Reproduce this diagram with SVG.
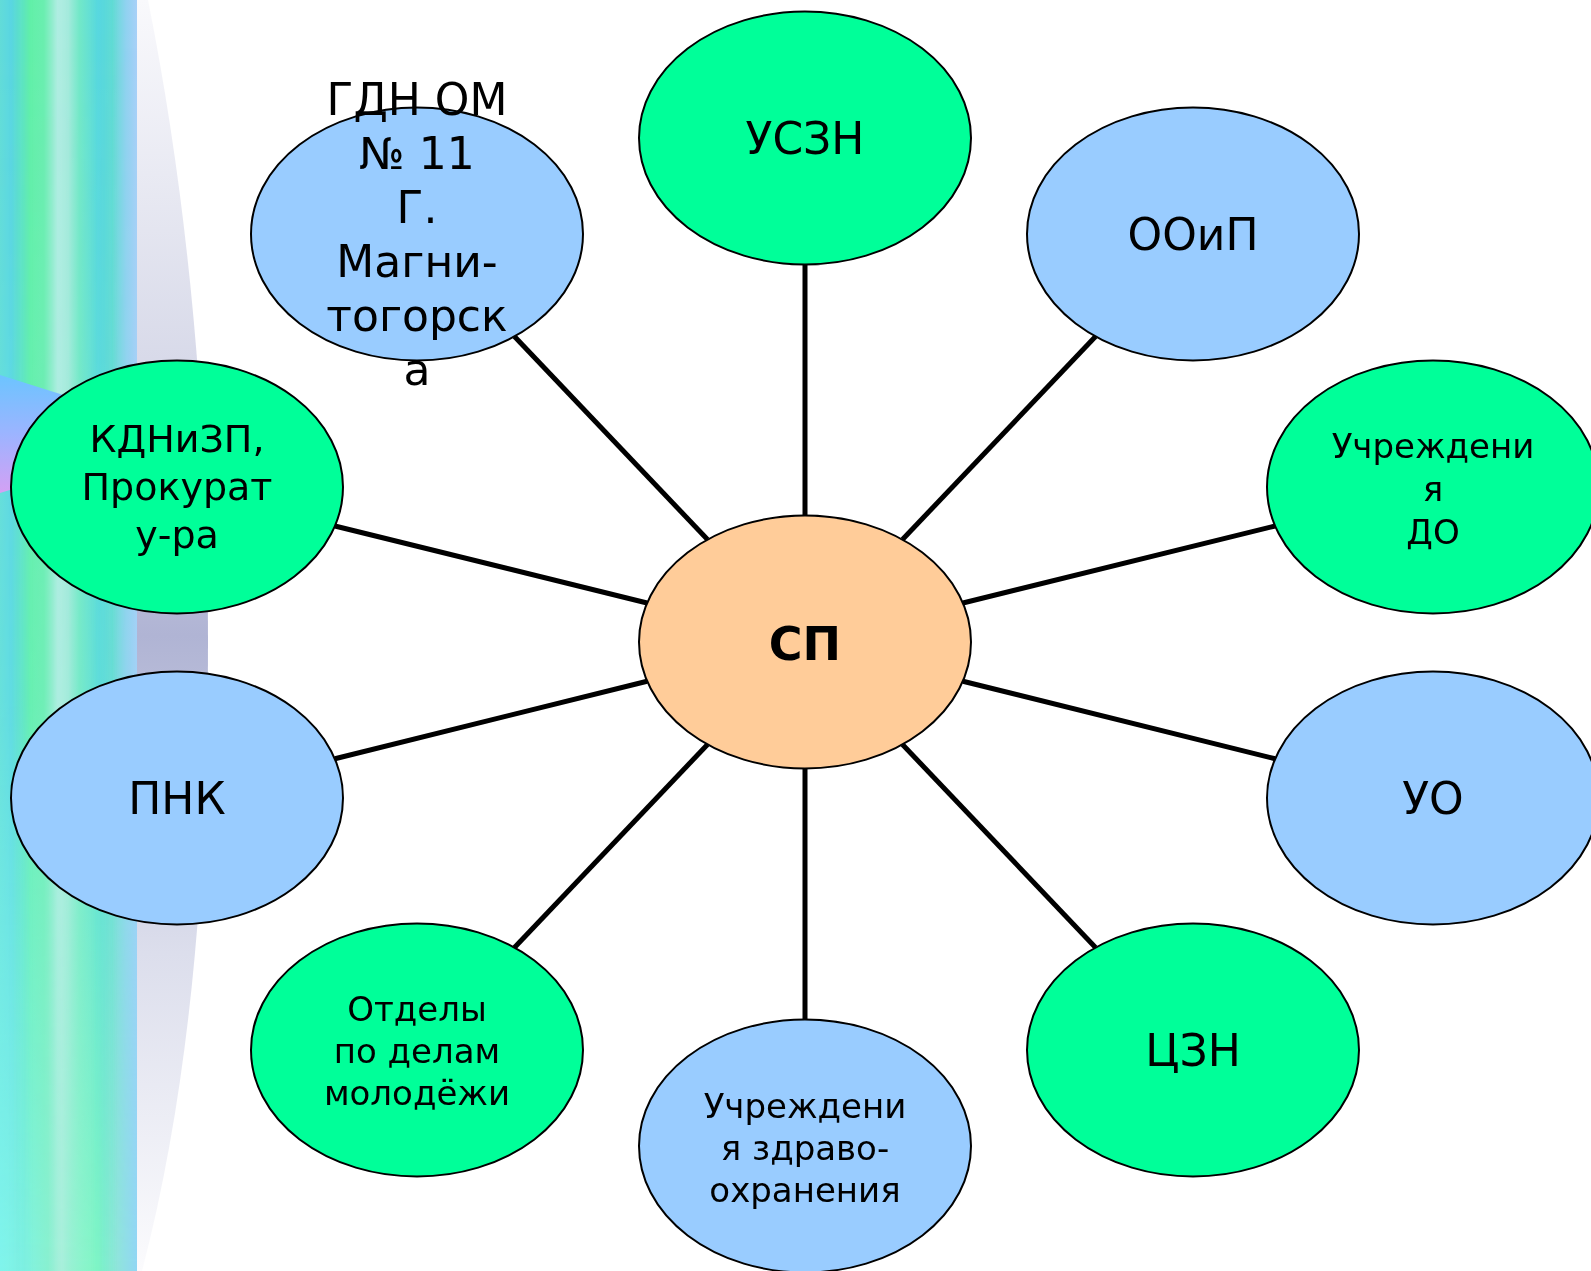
<svg xmlns="http://www.w3.org/2000/svg" width="1591" height="1271" viewBox="0 0 1591 1271">
<style>
.node ellipse{stroke:#000;stroke-width:2}
.g{fill:#00ff99}
.b{fill:#99ccff}
.p{fill:#ffcc99}
text{font-family:"DejaVu Sans","Verdana",sans-serif;fill:#000;text-anchor:middle}
.t44{font-size:44px}
.t38{font-size:38px}
.t34{font-size:34px}
.sp{font-size:46px;font-weight:bold}
#connectors line{stroke:#000;stroke-width:5}
</style>
<defs>
<linearGradient id="stripTop" x1="0" y1="0" x2="137" y2="0" gradientUnits="userSpaceOnUse">
<stop offset="0" stop-color="#62dcd8"/>
<stop offset="0.08" stop-color="#5ad6e2"/>
<stop offset="0.22" stop-color="#62f0a8"/>
<stop offset="0.32" stop-color="#6aeeb0"/>
<stop offset="0.42" stop-color="#a8ece0"/>
<stop offset="0.5" stop-color="#a2eadc"/>
<stop offset="0.58" stop-color="#72e8c8"/>
<stop offset="0.72" stop-color="#58d8e0"/>
<stop offset="0.82" stop-color="#62dcd4"/>
<stop offset="0.92" stop-color="#90d2f0"/>
<stop offset="1" stop-color="#a8d0f8"/>
</linearGradient>
<linearGradient id="stripBot" x1="0" y1="0" x2="137" y2="0" gradientUnits="userSpaceOnUse">
<stop offset="0" stop-color="#80f4ec"/>
<stop offset="0.2" stop-color="#82f2e0"/>
<stop offset="0.35" stop-color="#88f0d0"/>
<stop offset="0.45" stop-color="#a0eed8"/>
<stop offset="0.6" stop-color="#8cf4cc"/>
<stop offset="0.72" stop-color="#80f6c4"/>
<stop offset="0.86" stop-color="#90e4dc"/>
<stop offset="1" stop-color="#90d6f4"/>
</linearGradient>
<linearGradient id="fadeV" x1="0" y1="0" x2="0" y2="1">
<stop offset="0" stop-color="#fff" stop-opacity="0"/>
<stop offset="0.55" stop-color="#fff" stop-opacity="0.2"/>
<stop offset="1" stop-color="#fff" stop-opacity="1"/>
</linearGradient>
<mask id="botMask" maskUnits="userSpaceOnUse" x="0" y="0" width="137" height="1271">
<rect x="0" y="0" width="137" height="1271" fill="url(#fadeV)"/>
</mask>
<clipPath id="stripClip"><rect x="0" y="0" width="137" height="1271"/></clipPath>
<filter id="soft" x="-50%" y="0" width="200%" height="100%"><feGaussianBlur stdDeviation="4 0"/></filter>
<linearGradient id="band" x1="0" y1="0" x2="0" y2="1271" gradientUnits="userSpaceOnUse">
<stop offset="0" stop-color="#f9f9fc"/>
<stop offset="0.3" stop-color="#d6d8e8"/>
<stop offset="0.5" stop-color="#b0b4d4"/>
<stop offset="0.75" stop-color="#dcdeec"/>
<stop offset="1" stop-color="#fbfbfd"/>
</linearGradient>
<linearGradient id="wedge" x1="0" y1="375" x2="0" y2="493" gradientUnits="userSpaceOnUse">
<stop offset="0" stop-color="#6cc4ff"/>
<stop offset="0.5" stop-color="#9cb4ff"/>
<stop offset="1" stop-color="#d4a0f4"/>
</linearGradient>
</defs>
<rect x="0" y="0" width="1591" height="1271" fill="#fff"/>
<g id="background">
<path d="M137,0 H148 C188,200 208,420 208,640 C208,860 192,1080 142,1271 H137 Z" fill="url(#band)"/>
<rect x="0" y="0" width="137" height="1271" fill="url(#stripTop)"/>
<rect x="0" y="0" width="137" height="1271" fill="url(#stripBot)" mask="url(#botMask)"/>
<g clip-path="url(#stripClip)">
<g filter="url(#soft)">
<rect x="55" y="0" width="10" height="1271" fill="#ffffff" opacity="0.12"/>
<rect x="18" y="0" width="6" height="1271" fill="#4ad0e0" opacity="0.15"/>
<rect x="100" y="0" width="8" height="1271" fill="#40d0e0" opacity="0.12"/>
</g>
</g>
<polygon points="0,375 190,435 0,493" fill="url(#wedge)"/>
</g>
<g id="connectors">
<line x1="805" y1="515.5" x2="805" y2="264.5"/>
<line x1="902.5" y1="539.5" x2="1095.5" y2="336.5"/>
<line x1="962.9" y1="603" x2="1275.1" y2="526"/>
<line x1="962.9" y1="681.2" x2="1275.1" y2="758.8"/>
<line x1="902.5" y1="744.5" x2="1095.5" y2="947.5"/>
<line x1="805" y1="768.5" x2="805" y2="1019.5"/>
<line x1="707.5" y1="744.5" x2="514.5" y2="947.5"/>
<line x1="647.1" y1="681.2" x2="334.9" y2="758.8"/>
<line x1="647.1" y1="603" x2="334.9" y2="526"/>
<line x1="707.5" y1="539.5" x2="514.5" y2="336.5"/>
</g>
<g id="node-sp" class="node">
<ellipse class="p" cx="805" cy="642" rx="166" ry="126.5"/>
<text class="sp" x="805" y="660">СП</text>
</g>
<g id="node-uszn" class="node">
<ellipse class="g" cx="805" cy="138" rx="166" ry="126.5"/>
<text class="t44" x="805" y="154">УСЗН</text>
</g>
<g id="node-ooip" class="node">
<ellipse class="b" cx="1193" cy="234" rx="166" ry="126.5"/>
<text class="t44" x="1193" y="250">ООиП</text>
</g>
<g id="node-do" class="node">
<ellipse class="g" cx="1433" cy="487" rx="166" ry="126.5"/>
<text class="t34" x="1433" y="458">Учреждени</text>
<text class="t34" x="1433" y="501">я</text>
<text class="t34" x="1433" y="544">ДО</text>
</g>
<g id="node-uo" class="node">
<ellipse class="b" cx="1433" cy="798" rx="166" ry="126.5"/>
<text class="t44" x="1433" y="814">УО</text>
</g>
<g id="node-czn" class="node">
<ellipse class="g" cx="1193" cy="1050" rx="166" ry="126.5"/>
<text class="t44" x="1193" y="1066">ЦЗН</text>
</g>
<g id="node-zdrav" class="node">
<ellipse class="b" cx="805" cy="1146" rx="166" ry="126.5"/>
<text class="t34" x="805" y="1118">Учреждени</text>
<text class="t34" x="805" y="1160">я здраво-</text>
<text class="t34" x="805" y="1202">охранения</text>
</g>
<g id="node-otdely" class="node">
<ellipse class="g" cx="417" cy="1050" rx="166" ry="126.5"/>
<text class="t34" x="417" y="1021">Отделы</text>
<text class="t34" x="417" y="1063">по делам</text>
<text class="t34" x="417" y="1105">молодёжи</text>
</g>
<g id="node-pnk" class="node">
<ellipse class="b" cx="177" cy="798" rx="166" ry="126.5"/>
<text class="t44" x="177" y="814">ПНК</text>
</g>
<g id="node-kdn" class="node">
<ellipse class="g" cx="177" cy="487" rx="166" ry="126.5"/>
<text class="t38" x="177" y="452">КДНиЗП,</text>
<text class="t38" x="177" y="500">Прокурат</text>
<text class="t38" x="177" y="548">у-ра</text>
</g>
<g id="node-gdn" class="node">
<ellipse class="b" cx="417" cy="234" rx="166" ry="126.5"/>
<text class="t44" x="417" y="115">ГДН ОМ</text>
<text class="t44" x="417" y="169">№ 11</text>
<text class="t44" x="417" y="223">Г.</text>
<text class="t44" x="417" y="277">Магни-</text>
<text class="t44" x="417" y="331">тогорск</text>
<text class="t44" x="417" y="385">а</text>
</g>
</svg>
